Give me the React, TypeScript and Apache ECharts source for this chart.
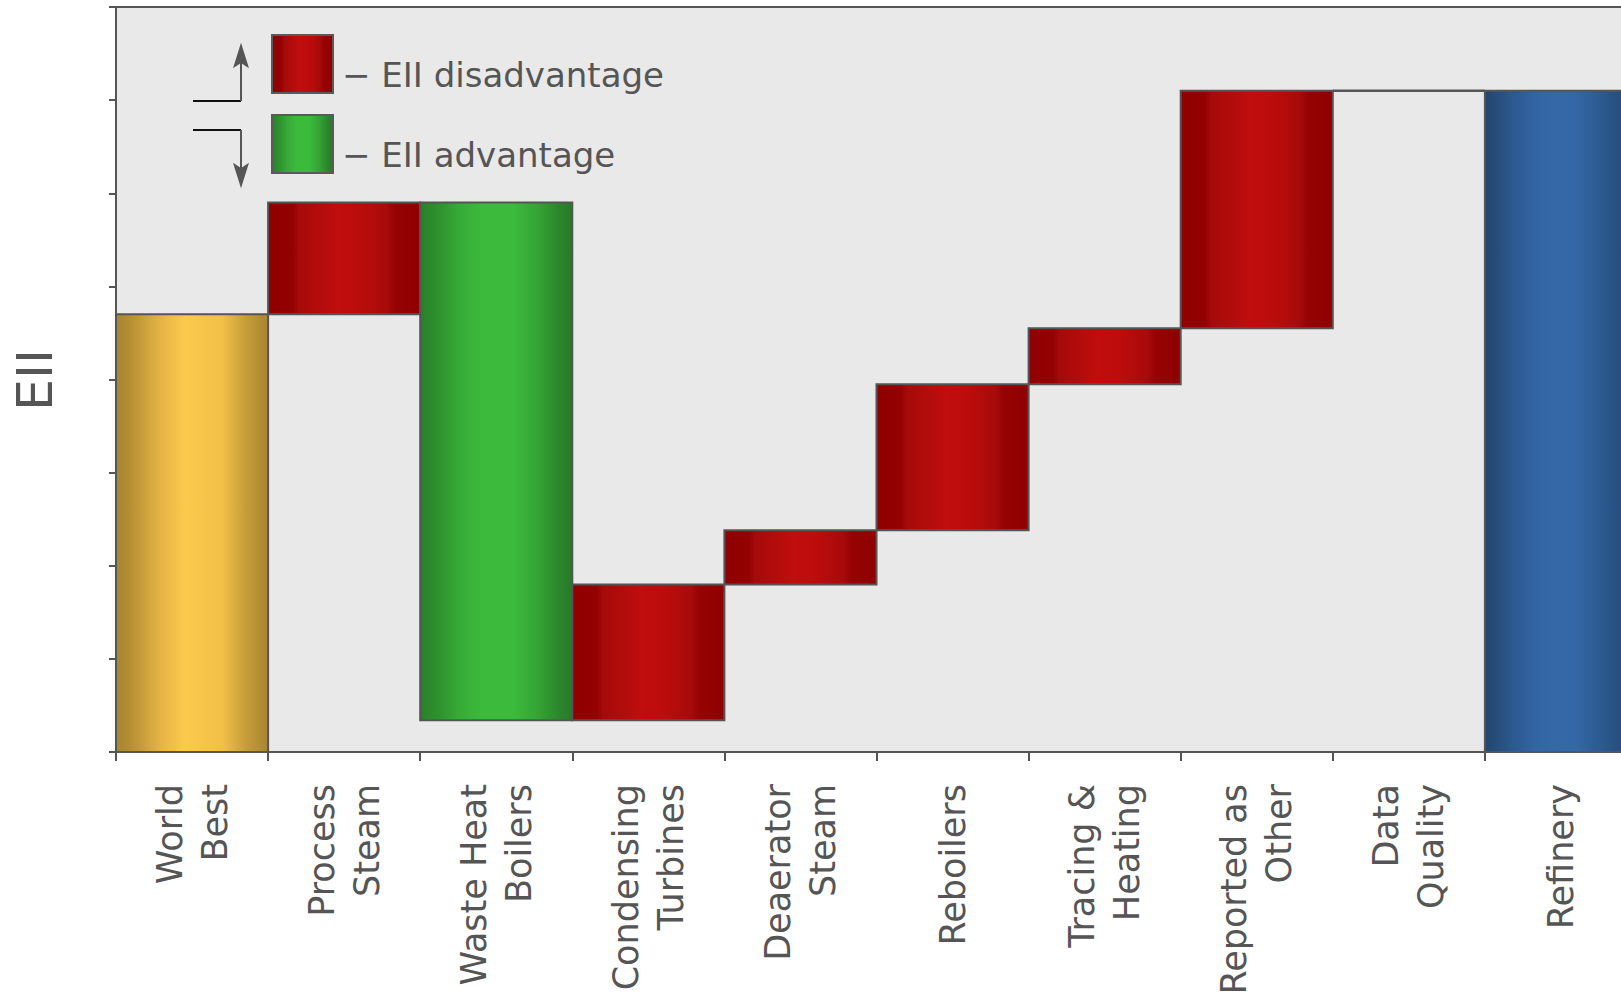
import React, { useEffect, useRef } from "react";
import * as echarts from "echarts";

const categories = [
  "World\nBest",
  "Process\nSteam",
  "Waste Heat\nBoilers",
  "Condensing\nTurbines",
  "Deaerator\nSteam",
  "Reboilers",
  "Tracing &\nHeating",
  "Reported as\nOther",
  "Data\nQuality",
  "Refinery",
];
const worldBest = 47;
// changes for Process Steam ... Data Quality
const steps = [12, -55.6, 14.6, 5.8, 15.7, 6.0, 25.5, 0];
const refinery = 71;
const yTickMax = 80;
const yTickStep = 10;
const legendLabels = ["\u2212 EII disadvantage", "\u2212 EII advantage"];
const yName = "EII";

const grad = (stops: [number, string][]) =>
  new echarts.graphic.LinearGradient(
    0,
    0,
    1,
    0,
    stops.map(([offset, color]) => ({ offset, color }))
  );

const goldStops: [number, string][] = [
  [0, "#a8852f"],
  [0.08, "#b28c33"],
  [0.3, "#e6b545"],
  [0.45, "#fbc94b"],
  [0.7, "#f2c048"],
  [0.85, "#c79d3b"],
  [1, "#a8852f"],
];
const redStops: [number, string][] = [
  [0, "#910000"],
  [0.16, "#930101"],
  [0.2, "#a50a0a"],
  [0.45, "#c00d0d"],
  [0.62, "#bb0c0c"],
  [0.78, "#a80a0a"],
  [0.84, "#950202"],
  [1, "#900000"],
];
const greenStops: [number, string][] = [
  [0, "#298029"],
  [0.13, "#2e932e"],
  [0.25, "#36aa37"],
  [0.4, "#3bba3c"],
  [0.62, "#3bba3c"],
  [0.78, "#34a235"],
  [0.92, "#2b852b"],
  [1, "#277a28"],
];
const blueStops: [number, string][] = [
  [0, "#22456e"],
  [0.15, "#2a5588"],
  [0.3, "#3163a0"],
  [0.45, "#3469a8"],
  [0.6, "#3367a5"],
  [0.75, "#2d5b92"],
  [0.9, "#264d7c"],
  [1, "#224470"],
];

export default function App() {
  const ref = useRef<HTMLDivElement>(null);
  useEffect(() => {
    if (!ref.current) return;
    const chart = echarts.init(ref.current, undefined, { renderer: "svg" });

    const items: number[][] = [];
    items.push([0, 0, worldBest, 0]);
    let running = worldBest;
    steps.forEach((d, i) => {
      const next = running + d;
      const kind = d > 0 ? 1 : d < 0 ? 2 : 4;
      items.push([i + 1, Math.min(running, next), Math.max(running, next), kind]);
      running = next;
    });
    items.push([categories.length - 1, 0, refinery, 3]);

    const fills = [goldStops, redStops, greenStops, blueStops];

    const option: any = {
      animation: false,
      backgroundColor: "#ffffff",
      grid: {
        left: 116,
        top: 7,
        bottom: 243,
        right: 0,
        outerBoundsMode: "none",
        containLabel: false,
        show: true,
        backgroundColor: "#e9e9e9",
        borderColor: "#555555",
        borderWidth: 2,
      },
      xAxis: {
        type: "category",
        data: categories,
        boundaryGap: true,
        axisLine: { show: true, lineStyle: { color: "#555555", width: 2 } },
        axisTick: {
          show: true,
          length: 9,
          interval: 0,
          lineStyle: { color: "#555555", width: 2 },
        },
        axisLabel: {
          interval: 0,
          rotate: 90,
          margin: 32,
          fontSize: 35,
          lineHeight: 45,
          fontFamily: "DejaVu Sans",
          color: "#555555",
        },
        splitLine: { show: false },
      },
      yAxis: {
        type: "value",
        min: 0,
        max: yTickMax,
        interval: yTickStep,
        axisLine: { show: true, lineStyle: { color: "#555555", width: 2 } },
        axisTick: { show: true, length: 7, lineStyle: { color: "#555555", width: 2 } },
        axisLabel: { show: false },
        splitLine: { show: false },
      },
      series: [
        {
          type: "custom",
          data: items,
          encode: { x: 0, y: [1, 2] },
          renderItem: (params: any, api: any) => {
            const idx = api.value(0);
            const lo = api.value(1);
            const hi = api.value(2);
            const kind = api.value(3);
            const top = api.coord([idx, hi]);
            const bot = api.coord([idx, lo]);
            const w = api.size([1, 0])[0];
            if (kind === 4) {
              return {
                type: "line",
                shape: { x1: top[0] - w / 2, y1: top[1], x2: top[0] + w / 2, y2: top[1] },
                style: { stroke: "#555555", lineWidth: 2.5 },
              };
            }
            return {
              type: "rect",
              shape: { x: top[0] - w / 2, y: top[1], width: w, height: bot[1] - top[1] },
              style: { fill: grad(fills[kind]), stroke: "#555555", lineWidth: 2 },
            };
          },
        },
      ],
      graphic: [
        // y axis name
        {
          type: "text",
          x: 35,
          y: 380,
          rotation: Math.PI / 2,
          scaleX: 1.15,
          style: {
            text: yName,
            font: "49px 'DejaVu Sans Condensed'",
            fill: "#555555",
            align: "center",
            verticalAlign: "middle",
          },
        },
        // up arrow
        {
          type: "polyline",
          shape: { points: [[193, 101], [241, 101]] },
          style: { stroke: "#111111", lineWidth: 2, fill: null },
          z: 10,
        },
        {
          type: "polyline",
          shape: { points: [[241, 101], [241, 55]] },
          style: { stroke: "#555555", lineWidth: 2, fill: null },
          z: 10,
        },
        {
          type: "polygon",
          shape: { points: [[241, 42.7], [249, 68.3], [241, 63], [233, 68.3]] },
          style: { fill: "#555555" },
          z: 10,
        },
        // down arrow
        {
          type: "polyline",
          shape: { points: [[193, 130], [241, 130]] },
          style: { stroke: "#111111", lineWidth: 2, fill: null },
          z: 10,
        },
        {
          type: "polyline",
          shape: { points: [[241, 130], [241, 176]] },
          style: { stroke: "#555555", lineWidth: 2, fill: null },
          z: 10,
        },
        {
          type: "polygon",
          shape: { points: [[241, 188.3], [249, 162.7], [241, 168], [233, 162.7]] },
          style: { fill: "#555555" },
          z: 10,
        },
        // legend boxes
        {
          type: "rect",
          shape: { x: 272, y: 35, width: 61, height: 58 },
          style: { fill: grad(redStops), stroke: "#5a5a5a", lineWidth: 2 },
          z: 10,
        },
        {
          type: "rect",
          shape: { x: 272, y: 115, width: 61, height: 58 },
          style: { fill: grad(greenStops), stroke: "#5a5a5a", lineWidth: 2 },
          z: 10,
        },
        {
          type: "text",
          x: 342,
          y: 75,
          style: {
            text: legendLabels[0],
            font: "34px 'DejaVu Sans'",
            fill: "#555555",
            align: "left",
            verticalAlign: "middle",
          },
          z: 10,
        },
        {
          type: "text",
          x: 342,
          y: 155,
          style: {
            text: legendLabels[1],
            font: "34px 'DejaVu Sans'",
            fill: "#555555",
            align: "left",
            verticalAlign: "middle",
          },
          z: 10,
        },
      ],
    };
    chart.setOption(option);
    return () => chart.dispose();
  }, []);
  return (
    <div
      ref={ref}
      style={{ position: "fixed", left: 0, top: 0, width: 1637, height: 995 }}
    />
  );
}
